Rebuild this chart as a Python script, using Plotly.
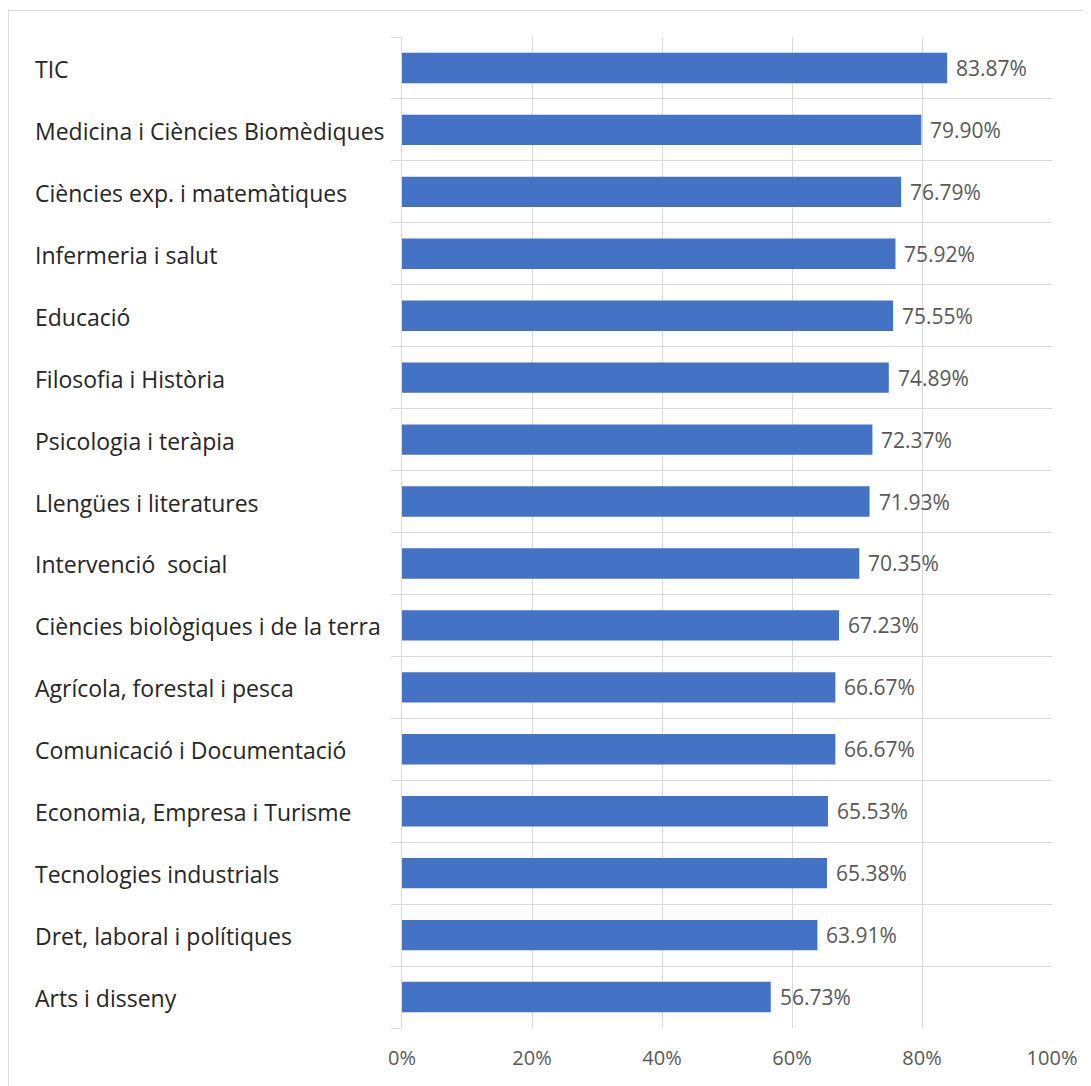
import plotly.graph_objects as go

categories = [
    "TIC",
    "Medicina i Ciències Biomèdiques",
    "Ciències exp. i matemàtiques",
    "Infermeria i salut",
    "Educació",
    "Filosofia i Història",
    "Psicologia i teràpia",
    "Llengües i literatures",
    "Intervenció  social",
    "Ciències biològiques i de la terra",
    "Agrícola, forestal i pesca",
    "Comunicació i Documentació",
    "Economia, Empresa i Turisme",
    "Tecnologies industrials",
    "Dret, laboral i polítiques",
    "Arts i disseny",
]
values = [83.87, 79.90, 76.79, 75.92, 75.55, 74.89, 72.37, 71.93, 70.35,
          67.23, 66.67, 66.67, 65.53, 65.38, 63.91, 56.73]
x_ticks = [0, 20, 40, 60, 80, 100]
x_tick_labels = ["0%", "20%", "40%", "60%", "80%", "100%"]

# page body has an 8px margin, so the figure is sized/offset accordingly
OFF = 8
W, H = 1091 - OFF, 1086 - OFF
ML, MR, MT, MB = 402 - OFF, 39, 37 - OFF, 58
PW = W - ML - MR
PH = H - MT - MB

FONT = "Open Sans"
GRID = "#d9d9d9"
TXT = "#595959"

fig = go.Figure()
fig.add_trace(go.Bar(
    x=values, y=categories, orientation="h",
    marker=dict(color="#4472C4", line=dict(width=0)),
    hoverinfo="skip",
))

annotations = []
for c, v in zip(categories, values):
    annotations.append(dict(
        x=v, y=c, xref="x", yref="y", text=f"{v:.2f}%",
        showarrow=False, xanchor="left", xshift=7,
        font=dict(family=FONT, size=21, color=TXT),
    ))
    annotations.append(dict(
        x=(33 - OFF - ML) / PW, y=c, xref="paper", yref="y", text=c,
        showarrow=False, xanchor="left", yshift=-1,
        font=dict(family=FONT, size=23, color="#262626"),
    ))

bx = 9 - OFF
by = 10 - OFF
shapes = [
    dict(type="line", xref="paper", yref="paper",
         x0=(bx - ML) / PW, x1=(W - ML) / PW,
         y0=(H - MB - by - 0.5) / PH, y1=(H - MB - by - 0.5) / PH,
         line=dict(color=GRID, width=1)),
    dict(type="line", xref="paper", yref="paper",
         x0=(bx - 0.5 - ML) / PW, x1=(bx - 0.5 - ML) / PW,
         y0=(H - MB - by) / PH, y1=-MB / PH,
         line=dict(color=GRID, width=1)),
]

fig.update_layout(
    width=W, height=H,
    margin=dict(l=ML, r=MR, t=MT, b=MB, pad=0),
    paper_bgcolor="white", plot_bgcolor="white",
    bargap=0.51,
    showlegend=False,
    annotations=annotations,
    shapes=shapes,
    xaxis=dict(
        range=[0, 100], tickvals=x_ticks, ticktext=x_tick_labels,
        showgrid=True, gridcolor=GRID, gridwidth=1,
        zeroline=False, showline=False, ticks="",
        tickfont=dict(family=FONT, size=20, color=TXT),
        ticklabelstandoff=16,
    ),
    yaxis=dict(
        categoryorder="array", categoryarray=categories[::-1],
        tickson="boundaries", ticks="outside", ticklen=10, tickcolor=GRID,
        showgrid=True, gridcolor=GRID, gridwidth=1,
        showline=True, linecolor=GRID, linewidth=1,
        showticklabels=False, zeroline=False,
    ),
)

fig.write_html("out.html")
